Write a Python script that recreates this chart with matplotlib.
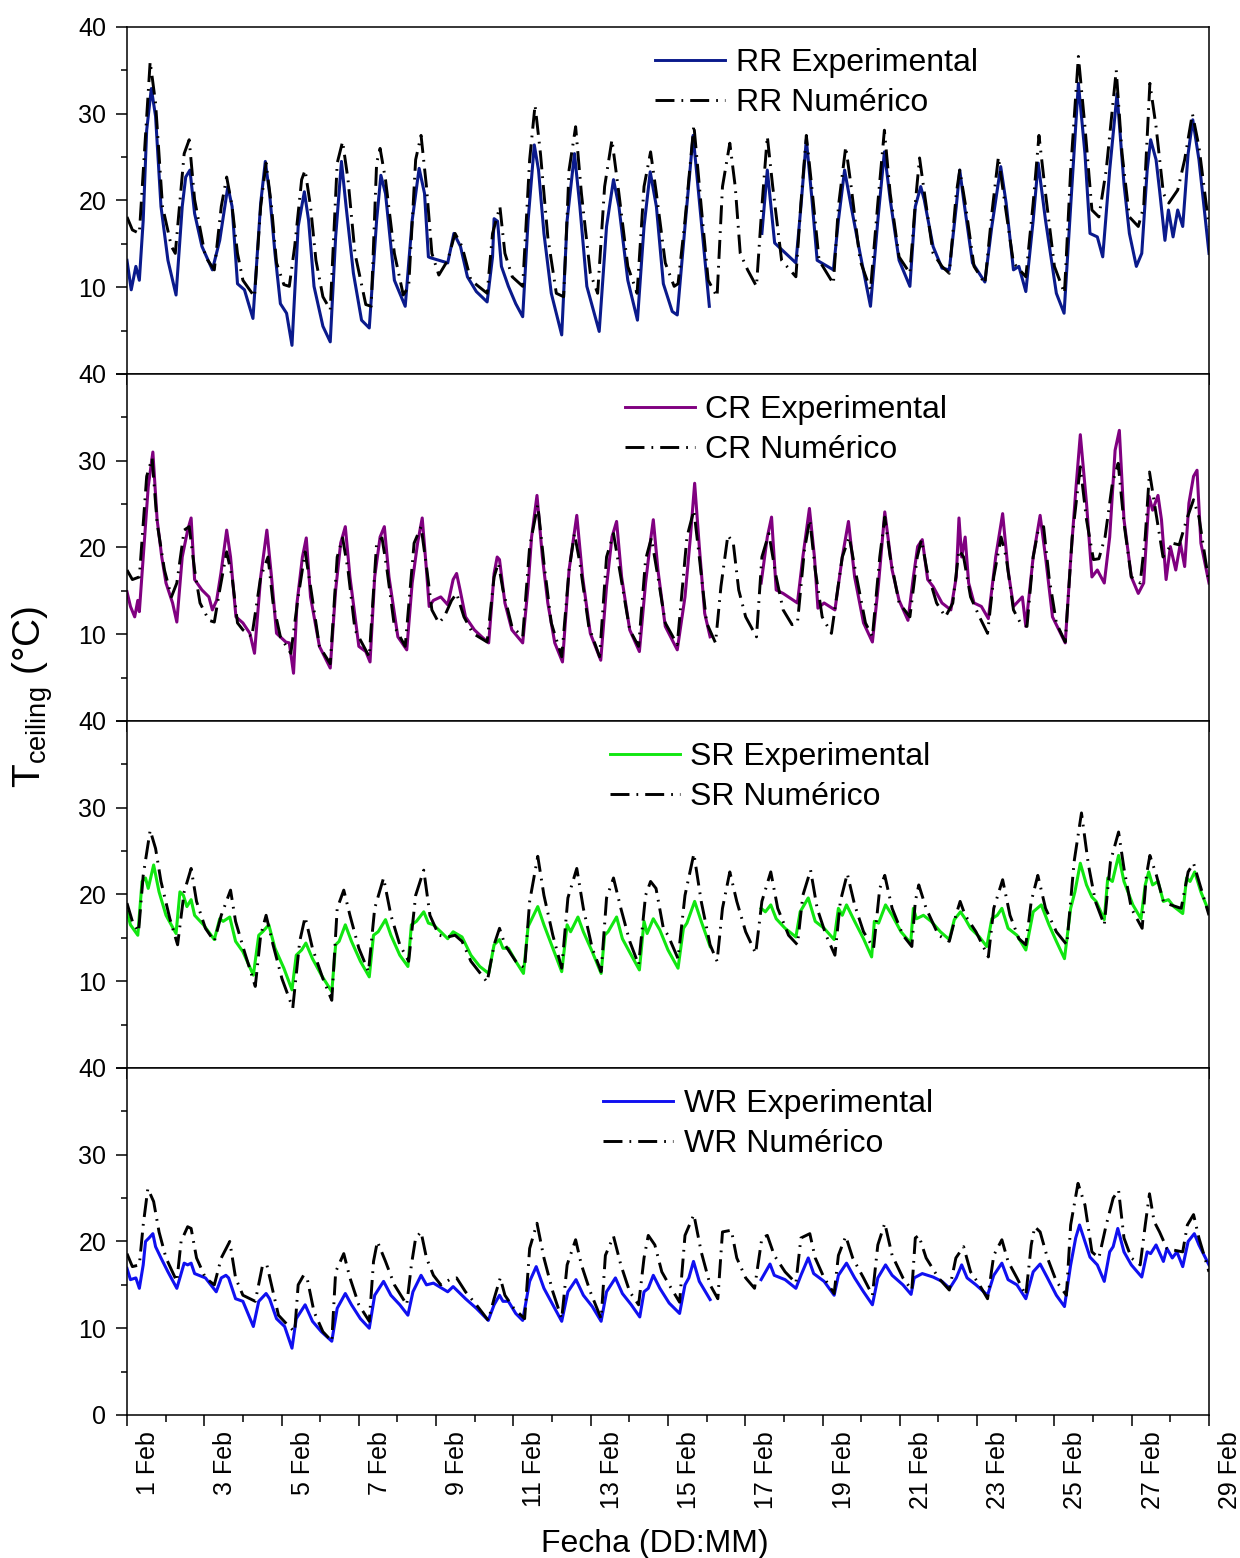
import numpy as np
import matplotlib.pyplot as plt
from matplotlib.ticker import MultipleLocator, FuncFormatter
from matplotlib.transforms import ScaledTranslation

plt.rcParams.update(
    {
        "font.family": ["Liberation Sans", "DejaVu Sans"],
        "axes.linewidth": 1.1,
        "figure.facecolor": "white",
    }
)

nan = np.nan

# (day of February, temperature in degC), vertices only
rr_exp = [
    (1.00, 13.1), (1.11, 9.7), (1.23, 12.4), (1.32, 10.8), (1.42, 17.7), (1.51, 28.1), (1.63, 32.9),
    (1.74, 29.7), (1.88, 19.3), (2.06, 13.1), (2.27, 9.1), (2.43, 19.3), (2.52, 22.7), (2.63, 23.5),
    (2.75, 18.5), (2.94, 14.7), (3.21, 12.0), (3.40, 15.4), (3.61, 21.6), (3.72, 19.3), (3.86, 10.4),
    (4.04, 9.7), (4.26, 6.4), (4.46, 19.7), (4.58, 24.5), (4.69, 20.8), (4.83, 13.9), (4.97, 8.1),
    (5.13, 7.0), (5.27, 3.3), (5.43, 17.0), (5.59, 21.0), (5.70, 17.7), (5.84, 10.1), (6.07, 5.5),
    (6.26, 3.7), (6.40, 15.8), (6.55, 24.5), (6.67, 19.3), (6.86, 11.6), (7.07, 6.2), (7.27, 5.3),
    (7.46, 17.7), (7.57, 22.9), (7.69, 20.8), (7.92, 10.8), (8.20, 7.8), (8.38, 17.7), (8.56, 23.7),
    (8.70, 20.8), (8.80, 13.5), (8.85, 13.4), (9.30, 12.8), (9.46, 16.2), (9.63, 14.7), (9.81, 11.2),
    (10.04, 9.5), (10.32, 8.3), (10.46, 13.5), (10.50, 17.9), (10.59, 17.6), (10.69, 12.4),
    (10.87, 10.1), (11.06, 8.1), (11.24, 6.6), (11.38, 17.7), (11.54, 26.4), (11.65, 23.5),
    (11.79, 16.2), (11.98, 9.3), (12.25, 4.5), (12.39, 17.7), (12.58, 25.4), (12.72, 19.3),
    (12.90, 10.1), (13.22, 4.9), (13.41, 17.0), (13.59, 22.4), (13.73, 19.3), (13.96, 10.8),
    (14.21, 6.2), (14.38, 17.0), (14.54, 23.3), (14.70, 19.3), (14.88, 10.4), (15.11, 7.2),
    (15.24, 6.8), (15.44, 17.0), (15.65, 27.5), (15.86, 17.7), (16.07, 7.8), (16.70, nan),
    (17.43, 16.2), (17.57, 23.5), (17.76, 15.1), (18.31, 12.8), (18.44, 19.3), (18.58, 27.0),
    (18.72, 20.4), (18.86, 13.1), (19.28, 12.0), (19.41, 17.7), (19.57, 23.5), (19.74, 19.3),
    (19.97, 13.9), (20.24, 7.8), (20.43, 17.7), (20.60, 25.6), (20.75, 20.1), (20.98, 13.1),
    (21.26, 10.1), (21.40, 19.3), (21.54, 21.6), (21.63, 20.1), (21.86, 14.7), (22.09, 12.2),
    (22.28, 12.0), (22.46, 19.3), (22.55, 23.5), (22.65, 20.1), (22.88, 12.8), (23.20, 10.6),
    (23.38, 17.0), (23.61, 23.9), (23.75, 19.7), (23.94, 12.0), (24.08, 12.4), (24.26, 9.5),
    (24.45, 17.7), (24.58, 24.3), (24.77, 17.7), (25.05, 9.3), (25.25, 7.0), (25.42, 19.3),
    (25.62, 33.5), (25.79, 25.4), (25.92, 16.2), (26.11, 15.8), (26.25, 13.5), (26.43, 23.5),
    (26.62, 32.3), (26.80, 21.9), (26.94, 16.2), (27.12, 12.4), (27.26, 13.9), (27.40, 23.5),
    (27.49, 27.0), (27.63, 24.7), (27.72, 21.2), (27.86, 15.4), (27.95, 18.9), (28.07, 15.8),
    (28.19, 18.9), (28.32, 17.0), (28.46, 25.4), (28.58, 29.3), (28.74, 24.7), (29.00, 13.9),
]
rr_num = [
    (1.00, 18.1), (1.14, 16.6), (1.32, 16.2), (1.44, 24.7), (1.60, 36.0), (1.74, 31.2), (1.92, 19.3),
    (2.15, 14.7), (2.25, 13.9), (2.48, 25.4), (2.61, 27.0), (2.75, 20.1), (3.03, 13.5), (3.26, 12.0),
    (3.44, 19.3), (3.58, 22.7), (3.72, 19.3), (3.86, 13.9), (4.00, 10.8), (4.30, 8.9), (4.46, 19.3),
    (4.60, 24.3), (4.74, 19.3), (4.87, 12.8), (5.06, 10.3), (5.20, 10.1), (5.34, 14.7), (5.52, 22.4),
    (5.61, 23.5), (5.75, 19.3), (5.89, 13.1), (6.07, 8.9), (6.26, 7.4), (6.44, 24.3), (6.58, 26.8),
    (6.72, 22.4), (6.90, 13.9), (7.18, 8.0), (7.32, 7.8), (7.46, 24.3), (7.55, 26.0), (7.69, 22.4),
    (7.92, 13.9), (8.15, 9.1), (8.29, 10.1), (8.47, 24.7), (8.61, 27.5), (8.75, 21.6), (8.89, 13.9),
    (9.07, 11.4), (9.30, 13.1), (9.49, 16.2), (9.67, 14.7), (9.90, 10.8), (10.32, 9.3),
    (10.46, 16.2), (10.65, 19.3), (10.78, 13.9), (10.97, 11.2), (11.24, 10.1), (11.42, 24.7),
    (11.56, 31.0), (11.70, 25.4), (11.89, 15.8), (12.11, 9.3), (12.30, 8.9), (12.44, 23.5),
    (12.61, 28.5), (12.76, 20.8), (12.99, 11.6), (13.18, 9.3), (13.36, 21.6), (13.55, 27.0),
    (13.73, 20.8), (13.96, 12.4), (14.20, 9.3), (14.38, 21.6), (14.55, 25.6), (14.70, 20.8),
    (14.93, 12.8), (15.16, 10.1), (15.26, 10.4), (15.44, 17.7), (15.67, 28.7), (15.86, 19.3),
    (16.04, 10.8), (16.27, 8.9), (16.41, 21.6), (16.60, 26.6), (16.74, 21.6), (16.87, 13.9),
    (17.06, 12.0), (17.29, 10.1), (17.43, 19.3), (17.57, 27.4), (17.71, 21.6), (17.94, 13.1),
    (18.31, 11.2), (18.44, 19.7), (18.58, 27.5), (18.72, 21.6), (18.91, 13.1), (19.28, 10.4),
    (19.41, 19.3), (19.60, 26.2), (19.74, 21.6), (19.97, 13.1), (20.24, 9.7), (20.43, 19.7),
    (20.60, 28.1), (20.75, 20.8), (20.98, 13.5), (21.26, 11.6), (21.40, 19.7), (21.51, 24.9),
    (21.65, 20.4), (21.86, 13.9), (22.09, 12.4), (22.28, 11.6), (22.46, 20.8), (22.55, 23.5),
    (22.69, 19.7), (22.92, 12.4), (23.20, 10.4), (23.38, 18.5), (23.55, 25.0), (23.71, 19.9),
    (23.94, 12.8), (24.26, 11.2), (24.45, 19.7), (24.60, 27.5), (24.77, 20.8), (25.00, 12.4),
    (25.26, 9.3), (25.42, 23.5), (25.62, 36.6), (25.79, 28.5), (25.97, 18.9), (26.15, 18.1),
    (26.34, 23.5), (26.60, 35.0), (26.75, 25.4), (26.94, 18.1), (27.17, 17.0), (27.31, 19.3),
    (27.47, 33.5), (27.63, 28.5), (27.82, 20.8), (27.96, 19.7), (28.19, 21.2), (28.37, 24.7),
    (28.57, 30.0), (28.74, 26.2), (29.00, 17.0),
]

cr_exp = [
    (1.00, 14.9), (1.09, 13.2), (1.20, 12.0), (1.28, 13.9), (1.32, 12.6), (1.42, 18.9), (1.55, 27.0),
    (1.67, 31.0), (1.78, 23.2), (1.90, 18.9), (2.01, 15.9), (2.18, 13.6), (2.29, 11.4), (2.43, 18.9),
    (2.57, 22.0), (2.66, 23.4), (2.75, 16.3), (2.94, 15.1), (3.12, 14.3), (3.21, 12.8), (3.32, 13.9),
    (3.43, 17.0), (3.58, 22.0), (3.68, 18.9), (3.82, 12.0), (4.00, 11.3), (4.18, 10.1), (4.30, 7.8),
    (4.46, 16.6), (4.62, 22.0), (4.74, 16.6), (4.87, 10.1), (5.11, 9.1), (5.20, 9.0), (5.31, 5.5),
    (5.40, 13.6), (5.54, 18.9), (5.64, 21.1), (5.75, 14.3), (5.98, 8.6), (6.26, 6.1), (6.40, 15.1),
    (6.53, 20.5), (6.65, 22.4), (6.77, 16.6), (7.00, 8.6), (7.18, 8.0), (7.29, 6.8), (7.41, 16.6),
    (7.55, 21.2), (7.66, 22.4), (7.78, 16.6), (8.01, 9.7), (8.24, 8.2), (8.38, 15.9), (8.52, 20.5),
    (8.64, 23.4), (8.75, 17.4), (8.82, 13.2), (8.93, 13.9), (9.12, 14.3), (9.30, 13.4),
    (9.44, 16.3), (9.53, 17.0), (9.62, 15.1), (9.76, 12.0), (9.99, 10.5), (10.18, 9.7),
    (10.36, 9.0), (10.50, 17.0), (10.58, 18.9), (10.64, 18.6), (10.78, 13.6), (10.96, 10.5),
    (11.24, 9.0), (11.38, 15.5), (11.47, 21.2), (11.61, 26.0), (11.75, 18.9), (11.89, 13.6),
    (12.07, 9.0), (12.27, 6.8), (12.44, 17.4), (12.64, 23.7), (12.79, 16.6), (12.99, 10.1),
    (13.26, 7.0), (13.41, 15.5), (13.55, 21.2), (13.67, 23.0), (13.80, 16.6), (14.01, 10.5),
    (14.26, 8.0), (14.42, 15.9), (14.56, 21.2), (14.62, 23.2), (14.74, 17.4), (14.93, 10.9),
    (15.24, 8.2), (15.44, 14.3), (15.58, 21.2), (15.69, 27.4), (15.81, 20.1), (15.95, 12.4),
    (16.09, 9.7), (16.70, nan), (17.41, 15.9), (17.57, 21.2), (17.68, 23.5), (17.80, 15.1),
    (17.98, 14.7), (18.35, 13.6), (18.49, 18.9), (18.66, 24.5), (18.79, 18.9), (18.88, 13.0),
    (19.04, 13.6), (19.32, 12.8), (19.51, 18.9), (19.67, 23.0), (19.83, 16.6), (20.06, 11.3),
    (20.29, 9.1), (20.45, 15.9), (20.61, 24.1), (20.80, 17.4), (20.98, 13.9), (21.21, 11.6),
    (21.35, 16.6), (21.46, 20.1), (21.58, 20.9), (21.72, 16.3), (21.86, 15.5), (22.09, 13.6),
    (22.32, 12.8), (22.46, 16.6), (22.53, 23.4), (22.60, 18.9), (22.69, 21.2), (22.78, 15.9),
    (22.92, 13.6), (23.11, 13.2), (23.29, 11.8), (23.48, 18.9), (23.66, 23.9), (23.80, 17.4),
    (23.94, 13.2), (24.17, 14.3), (24.26, 10.9), (24.45, 18.9), (24.63, 23.7), (24.77, 18.9),
    (24.95, 12.0), (25.28, 9.0), (25.42, 18.6), (25.56, 27.0), (25.67, 33.0), (25.83, 25.1),
    (25.97, 16.6), (26.11, 17.4), (26.29, 15.9), (26.43, 21.2), (26.57, 31.2), (26.68, 33.5),
    (26.80, 23.2), (26.99, 16.6), (27.17, 14.7), (27.31, 15.9), (27.45, 25.9), (27.54, 24.3),
    (27.68, 26.0), (27.77, 23.2), (27.89, 16.3), (28.00, 20.1), (28.14, 17.4), (28.26, 20.5),
    (28.37, 17.8), (28.48, 25.1), (28.60, 28.2), (28.69, 28.9), (28.79, 20.5), (29.00, 15.9),
]
cr_num = [
    (1.00, 17.4), (1.14, 16.3), (1.32, 16.6), (1.51, 28.2), (1.65, 30.3), (1.78, 22.8), (1.97, 17.4),
    (2.15, 14.3), (2.29, 15.9), (2.48, 22.0), (2.61, 22.4), (2.75, 17.4), (2.89, 13.6), (3.12, 11.6),
    (3.26, 11.4), (3.40, 15.1), (3.58, 19.5), (3.72, 16.6), (3.86, 11.3), (4.00, 10.5), (4.23, 9.7),
    (4.46, 16.6), (4.65, 18.9), (4.78, 13.6), (4.97, 9.7), (5.24, 7.8), (5.43, 14.3), (5.61, 19.5),
    (5.75, 15.5), (5.98, 8.6), (6.26, 6.6), (6.44, 18.9), (6.58, 21.1), (6.72, 17.4), (6.90, 10.5),
    (7.27, 7.4), (7.46, 20.5), (7.60, 21.1), (7.73, 17.4), (7.92, 10.9), (8.20, 8.6), (8.43, 20.5),
    (8.61, 22.4), (8.75, 17.8), (8.89, 12.8), (9.07, 11.3), (9.21, 12.0), (9.40, 13.9),
    (9.53, 14.7), (9.72, 12.0), (9.95, 10.1), (10.32, 9.1), (10.50, 16.6), (10.61, 18.2),
    (10.73, 15.1), (10.96, 10.9), (11.24, 9.7), (11.42, 20.1), (11.63, 24.9), (11.79, 18.2),
    (11.98, 11.3), (12.25, 7.4), (12.44, 17.4), (12.58, 21.6), (12.72, 18.2), (12.95, 10.9),
    (13.23, 7.4), (13.41, 18.9), (13.59, 21.6), (13.78, 16.6), (14.01, 10.5), (14.24, 8.6),
    (14.42, 18.6), (14.57, 21.1), (14.74, 16.6), (14.93, 11.3), (15.24, 8.8), (15.49, 21.2),
    (15.67, 24.3), (15.81, 18.9), (16.00, 11.3), (16.23, 9.0), (16.37, 15.5), (16.55, 21.4),
    (16.69, 20.5), (16.83, 15.1), (17.01, 12.0), (17.29, 9.7), (17.43, 18.9), (17.61, 21.6),
    (17.80, 16.6), (17.98, 12.8), (18.21, 11.1), (18.35, 11.3), (18.53, 19.7), (18.67, 23.2),
    (18.81, 17.4), (18.99, 12.0), (19.23, 10.1), (19.51, 18.9), (19.69, 21.2), (19.88, 16.6),
    (20.11, 11.3), (20.29, 9.7), (20.48, 18.9), (20.61, 23.5), (20.75, 18.9), (20.98, 13.6),
    (21.26, 12.0), (21.45, 18.9), (21.56, 20.9), (21.70, 17.4), (21.95, 13.6), (22.18, 12.0),
    (22.37, 13.6), (22.53, 19.7), (22.65, 18.9), (22.83, 14.3), (23.06, 12.0), (23.27, 10.1),
    (23.43, 16.6), (23.62, 21.2), (23.75, 18.9), (23.94, 12.8), (24.12, 11.3), (24.29, 10.9),
    (24.45, 18.9), (24.58, 22.0), (24.72, 22.4), (24.86, 16.6), (25.05, 11.3), (25.28, 9.1),
    (25.46, 21.2), (25.67, 29.3), (25.83, 23.2), (26.01, 18.6), (26.15, 18.7), (26.31, 21.2),
    (26.50, 27.4), (26.65, 29.7), (26.80, 22.8), (26.99, 16.6), (27.22, 15.9), (27.35, 21.2),
    (27.46, 28.7), (27.63, 23.9), (27.81, 18.9), (28.05, 20.5), (28.23, 20.3), (28.42, 23.2),
    (28.60, 25.5), (28.74, 23.5), (29.00, 15.9),
]

sr_exp = [
    (1.00, 18.0), (1.09, 16.5), (1.28, 15.3), (1.39, 21.5), (1.48, 21.9), (1.55, 20.7), (1.69, 23.4),
    (1.83, 20.3), (2.01, 17.6), (2.27, 15.5), (2.37, 20.3), (2.46, 19.9), (2.55, 18.6), (2.66, 19.4),
    (2.75, 17.6), (2.98, 16.5), (3.26, 14.8), (3.40, 17.2), (3.49, 16.9), (3.66, 17.4), (3.81, 14.6),
    (4.00, 13.4), (4.27, 10.7), (4.41, 15.3), (4.51, 15.7), (4.67, 16.5), (4.83, 13.8), (5.06, 11.5),
    (5.27, 9.0), (5.38, 13.0), (5.52, 13.6), (5.63, 14.4), (5.80, 12.6), (6.03, 10.7), (6.30, 8.8),
    (6.40, 14.2), (6.49, 14.6), (6.65, 16.5), (6.81, 14.6), (7.04, 12.3), (7.27, 10.5), (7.38, 15.3),
    (7.50, 15.7), (7.69, 17.1), (7.83, 15.3), (8.06, 13.0), (8.27, 11.7), (8.36, 16.5), (8.49, 16.9),
    (8.68, 18.0), (8.80, 16.7), (8.93, 16.5), (9.12, 15.7), (9.30, 14.9), (9.44, 15.7), (9.67, 15.1),
    (9.90, 13.0), (10.13, 11.7), (10.36, 10.9), (10.50, 14.2), (10.64, 14.8), (10.73, 13.8),
    (10.87, 13.8), (11.06, 12.3), (11.26, 10.9), (11.38, 16.3), (11.63, 18.6), (11.79, 16.5),
    (12.02, 13.8), (12.25, 11.1), (12.39, 16.5), (12.48, 15.7), (12.67, 17.4), (12.81, 15.7),
    (13.04, 13.4), (13.27, 10.9), (13.36, 15.3), (13.45, 15.7), (13.67, 17.4), (13.82, 14.9),
    (14.05, 13.0), (14.26, 11.3), (14.38, 16.9), (14.46, 15.5), (14.62, 17.2), (14.79, 15.9),
    (15.00, 13.6), (15.26, 11.5), (15.40, 16.1), (15.49, 16.7), (15.69, 19.2), (15.86, 16.9),
    (16.09, 14.0), (16.70, nan), (17.41, 18.4), (17.52, 18.0), (17.66, 18.8), (17.80, 17.2),
    (18.03, 16.1), (18.31, 15.1), (18.42, 18.0), (18.63, 19.6), (18.81, 16.9), (19.04, 16.1),
    (19.30, 14.8), (19.41, 18.4), (19.51, 17.6), (19.62, 18.8), (19.83, 16.9), (20.06, 14.9),
    (20.27, 12.8), (20.34, 16.9), (20.45, 16.7), (20.63, 18.8), (20.80, 17.6), (21.03, 15.7),
    (21.28, 14.4), (21.35, 18.4), (21.43, 17.2), (21.61, 17.6), (21.81, 16.9), (22.05, 15.7),
    (22.28, 14.8), (22.41, 17.1), (22.57, 18.0), (22.69, 17.2), (22.83, 16.1), (23.06, 15.1),
    (23.25, 14.0), (23.38, 17.2), (23.52, 17.6), (23.64, 18.4), (23.80, 16.1), (24.03, 15.3),
    (24.26, 13.6), (24.45, 18.0), (24.66, 18.8), (24.86, 16.5), (25.05, 14.6), (25.26, 12.6),
    (25.42, 18.4), (25.53, 20.3), (25.67, 23.6), (25.83, 21.1), (25.97, 19.7), (26.08, 19.2),
    (26.29, 17.1), (26.38, 21.9), (26.50, 21.5), (26.66, 24.5), (26.80, 21.5), (27.03, 18.8),
    (27.24, 17.2), (27.35, 21.1), (27.44, 22.6), (27.54, 21.1), (27.68, 21.5), (27.82, 19.2),
    (27.95, 19.4), (28.09, 18.6), (28.32, 17.8), (28.42, 21.9), (28.51, 21.5), (28.63, 22.6),
    (28.79, 20.3), (29.00, 18.0),
]
sr_num = [
    (1.00, 19.0), (1.14, 16.9), (1.30, 15.7), (1.42, 22.2), (1.60, 27.4), (1.74, 25.3), (1.88, 21.5),
    (2.11, 17.2), (2.31, 14.2), (2.48, 20.3), (2.66, 23.0), (2.80, 19.2), (3.03, 16.1), (3.26, 14.6),
    (3.44, 17.6), (3.68, 20.5), (3.81, 16.9), (4.04, 13.4), (4.32, 9.4), (4.46, 15.3), (4.60, 17.6),
    (4.78, 14.2), (5.01, 10.3), (5.29, 6.9), (5.47, 14.6), (5.61, 17.4), (5.80, 13.8), (6.07, 10.3),
    (6.30, 7.8), (6.44, 18.4), (6.61, 20.5), (6.77, 17.6), (7.00, 13.8), (7.25, 11.1), (7.41, 18.4),
    (7.64, 21.9), (7.83, 17.6), (8.06, 14.2), (8.29, 12.3), (8.47, 19.9), (8.68, 22.8), (8.84, 17.6),
    (9.07, 15.3), (9.30, 15.1), (9.49, 15.3), (9.67, 14.6), (9.90, 12.3), (10.32, 9.9),
    (10.50, 14.2), (10.64, 16.1), (10.78, 14.2), (11.06, 12.3), (11.29, 11.5), (11.42, 19.2),
    (11.63, 24.4), (11.79, 19.9), (12.02, 15.3), (12.25, 11.5), (12.41, 19.6), (12.64, 23.0),
    (12.81, 18.4), (13.04, 13.8), (13.27, 11.1), (13.41, 19.6), (13.59, 21.9), (13.78, 18.4),
    (14.01, 14.6), (14.24, 11.9), (14.42, 19.9), (14.55, 21.5), (14.69, 20.7), (14.88, 16.1),
    (15.00, 15.3), (15.26, 12.6), (15.44, 19.9), (15.67, 24.7), (15.86, 19.2), (16.09, 14.2),
    (16.27, 12.3), (16.41, 18.4), (16.60, 22.6), (16.78, 19.2), (17.01, 15.7), (17.27, 13.2),
    (17.43, 19.2), (17.66, 22.6), (17.84, 18.4), (18.12, 15.3), (18.35, 14.2), (18.49, 19.9),
    (18.69, 22.8), (18.86, 18.4), (19.09, 15.3), (19.32, 13.0), (19.46, 19.2), (19.64, 22.4),
    (19.83, 18.8), (20.06, 15.7), (20.32, 13.8), (20.48, 20.7), (20.61, 22.2), (20.80, 18.4),
    (21.08, 15.3), (21.31, 14.0), (21.40, 19.2), (21.49, 21.1), (21.68, 18.4), (22.00, 15.3),
    (22.28, 14.6), (22.45, 17.6), (22.56, 19.2), (22.69, 17.6), (22.97, 15.7), (23.29, 12.8),
    (23.43, 18.4), (23.66, 21.7), (23.85, 17.6), (24.08, 14.9), (24.26, 14.2), (24.40, 19.2),
    (24.57, 22.2), (24.77, 18.4), (25.05, 15.7), (25.32, 14.2), (25.51, 23.8), (25.70, 29.4),
    (25.88, 23.4), (26.06, 19.2), (26.29, 16.5), (26.45, 23.8), (26.66, 27.2), (26.80, 23.0),
    (26.99, 18.4), (27.27, 16.1), (27.38, 22.2), (27.47, 24.5), (27.64, 22.2), (27.82, 19.2),
    (28.01, 18.8), (28.28, 18.4), (28.46, 22.6), (28.60, 23.6), (28.74, 21.5), (29.00, 17.6),
]

wr_exp = [
    (1.00, 16.9), (1.09, 15.6), (1.23, 15.8), (1.32, 14.6), (1.42, 17.3), (1.48, 20.0), (1.57, 20.4),
    (1.67, 20.9), (1.74, 19.4), (1.88, 18.1), (2.06, 16.5), (2.29, 14.6), (2.48, 17.5), (2.57, 17.3),
    (2.66, 17.5), (2.75, 16.3), (3.03, 15.8), (3.31, 14.2), (3.44, 15.8), (3.56, 16.1), (3.63, 15.8),
    (3.81, 13.4), (4.00, 13.1), (4.27, 10.2), (4.41, 13.1), (4.60, 14.0), (4.69, 13.4), (4.87, 11.1),
    (5.08, 10.2), (5.27, 7.7), (5.38, 11.1), (5.61, 12.7), (5.80, 10.8), (6.03, 9.6), (6.30, 8.5),
    (6.44, 12.3), (6.65, 14.0), (6.81, 12.7), (7.04, 11.1), (7.27, 10.0), (7.41, 13.8), (7.64, 15.4),
    (7.83, 13.8), (8.06, 12.7), (8.27, 11.5), (8.40, 14.2), (8.61, 16.1), (8.75, 15.0), (8.93, 15.2),
    (9.30, 14.2), (9.44, 14.8), (9.76, 13.4), (10.04, 12.3), (10.35, 10.9), (10.50, 12.7),
    (10.64, 13.8), (10.73, 13.1), (10.87, 13.1), (11.06, 11.7), (11.24, 10.9), (11.42, 15.4),
    (11.59, 17.1), (11.79, 14.6), (12.02, 12.7), (12.25, 10.8), (12.41, 14.2), (12.62, 15.6),
    (12.81, 13.8), (13.04, 12.5), (13.27, 10.8), (13.41, 14.2), (13.64, 15.8), (13.82, 14.0),
    (14.05, 12.7), (14.27, 11.3), (14.38, 14.2), (14.49, 14.6), (14.62, 16.1), (14.79, 14.6),
    (15.03, 12.9), (15.30, 11.7), (15.44, 15.0), (15.54, 15.8), (15.66, 17.7), (15.81, 15.4),
    (16.09, 13.3), (16.70, nan), (17.41, 15.6), (17.64, 17.4), (17.75, 16.1), (18.03, 15.6),
    (18.31, 14.6), (18.44, 16.1), (18.63, 18.1), (18.77, 16.3), (19.04, 15.4), (19.30, 13.8),
    (19.41, 16.1), (19.62, 17.5), (19.83, 15.8), (20.06, 14.2), (20.29, 12.7), (20.43, 15.8),
    (20.63, 17.3), (20.80, 16.1), (21.08, 15.0), (21.29, 13.9), (21.37, 15.8), (21.58, 16.3),
    (21.86, 15.9), (22.09, 15.4), (22.29, 14.6), (22.46, 15.8), (22.60, 17.3), (22.74, 15.8),
    (22.97, 15.0), (23.27, 13.8), (23.43, 16.1), (23.64, 17.5), (23.80, 15.6), (24.03, 15.0),
    (24.26, 13.4), (24.45, 16.5), (24.63, 17.4), (24.82, 15.8), (25.05, 13.8), (25.26, 12.5),
    (25.42, 17.3), (25.55, 20.4), (25.65, 21.9), (25.79, 20.0), (25.92, 18.2), (26.11, 17.3),
    (26.29, 15.4), (26.43, 18.8), (26.52, 19.4), (26.64, 21.5), (26.80, 18.8), (26.99, 17.3),
    (27.26, 15.9), (27.40, 18.8), (27.49, 18.6), (27.63, 19.6), (27.82, 17.7), (27.91, 19.2),
    (28.05, 18.1), (28.17, 18.8), (28.32, 17.1), (28.46, 20.0), (28.62, 20.9), (28.74, 19.6),
    (29.00, 17.3),
]
wr_num = [
    (1.00, 18.6), (1.14, 17.1), (1.32, 17.3), (1.42, 21.9), (1.54, 26.1), (1.69, 24.6), (1.83, 21.1),
    (2.01, 18.1), (2.29, 15.4), (2.40, 20.0), (2.57, 21.7), (2.66, 21.5), (2.80, 18.1), (3.03, 15.8),
    (3.26, 15.0), (3.44, 18.1), (3.66, 20.0), (3.81, 15.8), (4.00, 13.8), (4.32, 13.1), (4.51, 17.3),
    (4.62, 17.3), (4.74, 15.0), (4.92, 11.5), (5.15, 10.4), (5.34, 9.6), (5.43, 15.0), (5.57, 16.1),
    (5.66, 15.8), (5.84, 11.9), (6.07, 9.6), (6.30, 8.5), (6.40, 16.5), (6.61, 18.6), (6.77, 15.8),
    (7.00, 12.7), (7.27, 10.8), (7.38, 17.7), (7.48, 20.0), (7.69, 17.7), (7.92, 15.0), (8.24, 12.7),
    (8.36, 17.3), (8.47, 20.4), (8.61, 21.1), (8.75, 18.1), (8.93, 16.1), (9.12, 15.0), (9.35, 15.6),
    (9.53, 15.8), (9.76, 14.2), (10.04, 12.7), (10.35, 10.9), (10.50, 13.4), (10.66, 15.8),
    (10.78, 13.8), (11.01, 12.3), (11.29, 11.1), (11.42, 19.2), (11.61, 22.1), (11.79, 18.1),
    (12.02, 14.2), (12.25, 11.1), (12.39, 17.3), (12.61, 20.2), (12.76, 17.3), (12.99, 14.2),
    (13.27, 11.1), (13.38, 18.4), (13.59, 20.6), (13.78, 17.3), (14.01, 14.2), (14.24, 12.7),
    (14.38, 18.1), (14.49, 20.7), (14.66, 19.6), (14.84, 16.5), (15.03, 15.0), (15.30, 13.0),
    (15.44, 20.7), (15.67, 23.1), (15.86, 18.8), (16.09, 15.0), (16.29, 13.4), (16.41, 21.1),
    (16.64, 21.3), (16.78, 18.1), (17.01, 15.8), (17.24, 14.6), (17.43, 20.4), (17.57, 20.7),
    (17.75, 18.4), (18.03, 16.5), (18.31, 15.2), (18.44, 20.4), (18.67, 20.9), (18.81, 18.1),
    (19.04, 15.8), (19.30, 14.0), (19.41, 18.4), (19.60, 20.6), (19.78, 18.1), (20.06, 15.8),
    (20.29, 13.8), (20.43, 19.6), (20.61, 22.1), (20.80, 18.4), (21.08, 15.8), (21.31, 14.4),
    (21.40, 20.4), (21.49, 20.7), (21.68, 18.1), (22.00, 15.8), (22.28, 14.4), (22.45, 18.1),
    (22.65, 19.4), (22.83, 16.5), (23.06, 15.0), (23.27, 13.4), (23.43, 18.4), (23.64, 20.2),
    (23.80, 17.7), (24.03, 15.8), (24.26, 13.8), (24.40, 19.6), (24.49, 21.7), (24.63, 21.1),
    (24.82, 18.1), (25.05, 15.4), (25.31, 13.8), (25.42, 21.9), (25.61, 26.7), (25.79, 24.2),
    (25.97, 18.8), (26.15, 18.1), (26.34, 21.9), (26.52, 25.0), (26.66, 25.9), (26.80, 20.4),
    (26.99, 18.1), (27.22, 17.3), (27.35, 21.9), (27.46, 25.5), (27.58, 22.3), (27.72, 21.1),
    (27.91, 19.2), (28.09, 19.0), (28.32, 18.8), (28.44, 21.9), (28.60, 23.1), (28.74, 20.4),
    (29.00, 16.5),
]

PANELS = [
    ("RR", rr_exp, rr_num, "#0A1A8C"),
    ("CR", cr_exp, cr_num, "#800080"),
    ("SR", sr_exp, sr_num, "#11E611"),
    ("WR", wr_exp, wr_num, "#1010F0"),
]
LEGEND_X = [0.488, 0.460, 0.446, 0.440]
DAY_TICKS = list(range(1, 30, 2))

DASHDOT = (0, (6.5, 2.4, 0.6, 2.4))


def main() -> None:
    fig, axes = plt.subplots(4, 1, figsize=(12.4, 15.58), dpi=100, sharex=True)
    fig.subplots_adjust(left=0.1024, right=0.975, top=0.9827, bottom=0.0918, hspace=0)

    for i, (ax, (name, exp, num, color)) in enumerate(zip(axes, PANELS)):
        e = np.array(exp, dtype=float)
        n = np.array(num, dtype=float)
        ax.plot(e[:, 0], e[:, 1], color=color, lw=2.2, label=f"{name} Experimental", zorder=2)
        ax.plot(n[:, 0], n[:, 1], color="black", lw=2.1, ls=DASHDOT, label=f"{name} Numérico", zorder=3)
        ax.set_xlim(1, 29)
        ax.set_ylim(0, 40)
        ax.yaxis.set_major_locator(MultipleLocator(10))
        ax.yaxis.set_minor_locator(MultipleLocator(5))
        if i < 3:
            ax.yaxis.set_major_formatter(FuncFormatter(lambda v, p: "" if v < 1 else f"{v:.0f}"))
        ax.xaxis.set_major_locator(MultipleLocator(2))
        ax.xaxis.set_minor_locator(MultipleLocator(1))
        ax.tick_params(axis="y", which="major", direction="out", length=8, width=1.1, labelsize=18, pad=7)
        ax.tick_params(axis="y", which="minor", direction="out", length=4.5, width=1.1)
        ax.tick_params(axis="x", which="major", direction="out", length=8, width=1.1)
        ax.tick_params(axis="x", which="minor", direction="out", length=5, width=1.1)
        leg = ax.legend(
            loc="upper left",
            bbox_to_anchor=(LEGEND_X[i], 0.94),
            frameon=False,
            fontsize=23,
            handlelength=2.2,
            handletextpad=0.32,
            labelspacing=0.33,
            borderpad=0,
            borderaxespad=0,
        )
        for line in leg.get_lines():
            line.set_linewidth(2.1)

    bottom = axes[-1]
    bottom.set_xticks(DAY_TICKS)
    bottom.set_xticklabels([f"{d} Feb" for d in DAY_TICKS], rotation=90, fontsize=18, va="top", ha="center")
    offset = ScaledTranslation(0.21, 0, fig.dpi_scale_trans)
    for lab in bottom.get_xticklabels():
        lab.set_transform(lab.get_transform() + offset)
    bottom.set_xlabel("Fecha (DD:MM)", fontsize=23)
    bottom.xaxis.set_label_coords(0.488, -0.328)

    fig.text(0.026, 0.553, r"T$_{\mathregular{ceiling}}$ (°C)", rotation=90, fontsize=28, ha="center", va="center")
    fig.savefig("out.png", dpi=100)


if __name__ == "__main__":
    main()
